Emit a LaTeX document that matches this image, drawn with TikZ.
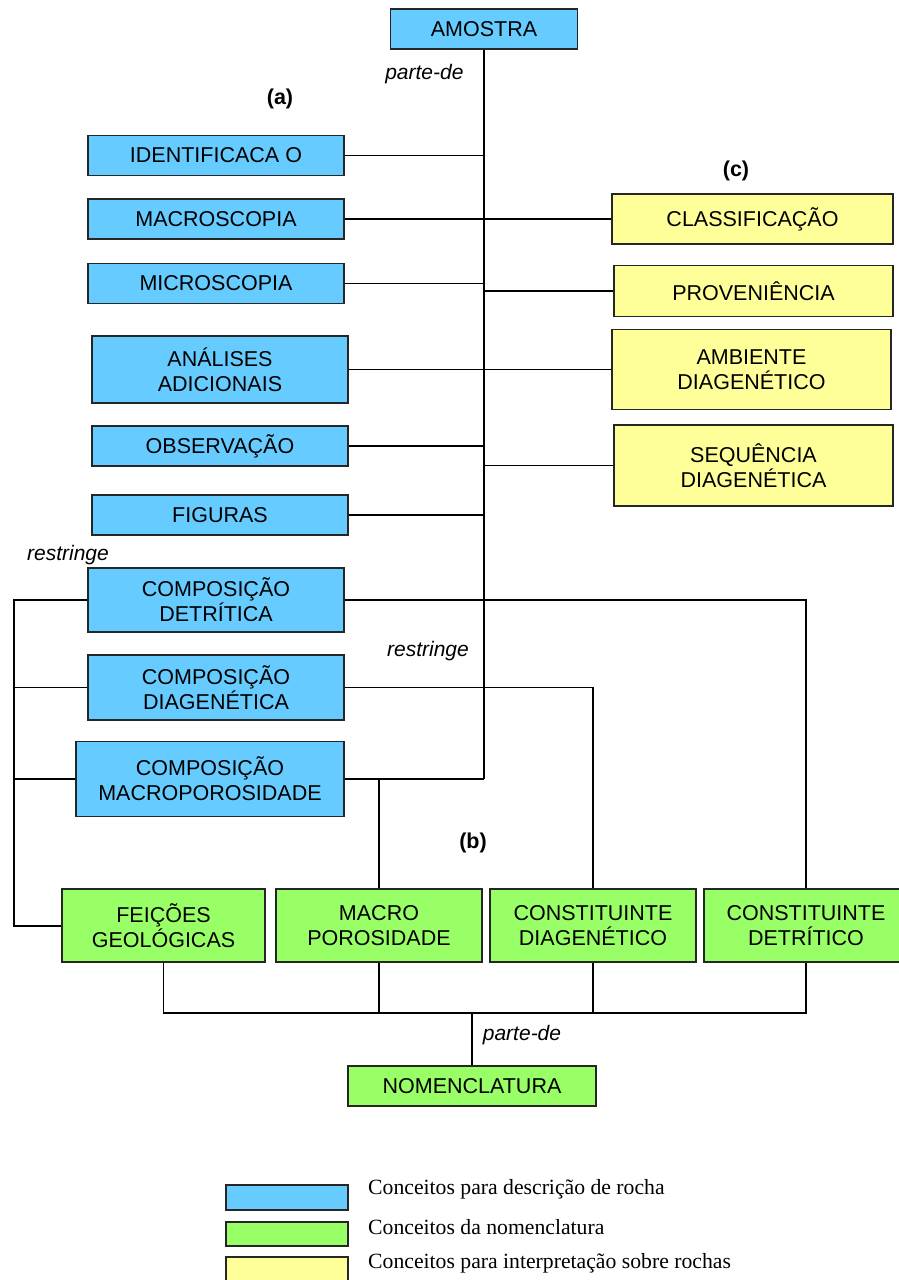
\documentclass[tikz,border=0pt]{standalone}
\usepackage{fontspec}
\setmainfont{Liberation Sans}
\newfontfamily\legendfont{Liberation Serif}
\usepackage{xcolor}
\definecolor{rockblue}{HTML}{66CCFF}
\definecolor{nomgreen}{HTML}{99FF66}
\definecolor{interpyellow}{HTML}{FFFF99}

\begin{document}
\begin{tikzpicture}[x=1pt,y=-1pt]
\tikzset{
    concept/.style={draw=black!85,line width=1.9pt,minimum width=256pt,minimum height=40pt,
        inner sep=0pt,align=center,font=\fontsize{21.5}{25}\selectfont},
    desc/.style={concept,fill=rockblue},
    nom/.style={concept,fill=nomgreen},
    interp/.style={concept,fill=interpyellow},
    link/.style={line width=1.4pt},
    trunk/.style={line width=2.6pt},
    rel/.style={font=\fontsize{21}{25}\selectfont\itshape},
    part/.style={font=\fontsize{21.5}{25}\selectfont\bfseries},
    legtext/.style={anchor=west,inner sep=0pt,font=\legendfont\fontsize{21.7}{25}\selectfont}
}
\useasboundingbox (0,0) rectangle (898,1280);

% (a) description concepts
\node[desc,minimum width=187pt] (amostra) at (484,29) {AMOSTRA};
\node[rel,anchor=east] (parteA) at (467,74) {parte-de};
\node[part] (laba) at (280,99) {(a)};

\node[desc] (ident) at (216,155.5) {IDENTIFICACA O};
\node[desc] (macro) at (216,219) {MACROSCOPIA};
\node[desc] (micro) at (216,283.5) {MICROSCOPIA};
\node[desc,minimum height=67pt] (analises) at (220,369.5) {ANÁLISES\\ADICIONAIS};
\node[desc] (observ) at (220,446) {OBSERVAÇÃO};
\node[desc] (figuras) at (220,515) {FIGURAS};
\node[rel] (restr1) at (68,555) {restringe};
\node[desc,minimum height=64pt] (compdet) at (216,600) {COMPOSIÇÃO\\DETRÍTICA};
\node[rel] (restr2) at (428,651) {restringe};
\node[desc,minimum height=65pt] (compdiag) at (216,687.5) {COMPOSIÇÃO\\DIAGENÉTICA};
\node[desc,minimum width=268pt,minimum height=75pt] (compmacro) at (210,779) {COMPOSIÇÃO\\MACROPOROSIDADE};

% (c) interpretation concepts
\node[part] (labc) at (736,171) {(c)};
\node[interp,minimum width=281pt,minimum height=50pt] (classif) at (752.5,219) {CLASSIFICAÇÃO};
\node[interp,minimum width=279pt,minimum height=51pt] (prov) at (753.5,291) {PROVENIÊNCIA};
\node[interp,minimum width=279pt,minimum height=80pt] (ambiente) at (751.5,369.5) {AMBIENTE\\DIAGENÉTICO};
\node[interp,minimum width=279pt,minimum height=81pt] (sequencia) at (753.5,465.5) {SEQUÊNCIA\\DIAGENÉTICA};

% (b) nomenclature concepts
\node[part] (labb) at (473,843) {(b)};
\node[nom,minimum width=203pt,minimum height=73pt] (feicoes) at (163.5,925.5) {FEIÇÕES\\GEOLÓGICAS};
\node[nom,minimum width=206pt,minimum height=73pt] (macropor) at (379,925.5) {MACRO\\POROSIDADE};
\node[nom,minimum width=206pt,minimum height=73pt] (constdiag) at (593,925.5) {CONSTITUINTE\\DIAGENÉTICO};
\node[nom,minimum width=204pt,minimum height=73pt] (constdet) at (806,925.5) {CONSTITUINTE\\DETRÍTICO};
\node[rel] (parteB) at (522,1035) {parte-de};
\node[nom,minimum width=248pt] (nomen) at (472,1086) {NOMENCLATURA};

% legend
\node[desc,minimum width=122pt,minimum height=25pt] (legdesc) at (287,1197.5) {};
\node[nom,minimum width=122pt,minimum height=24pt] (legnom) at (287,1234) {};
\node[interp,minimum width=122pt,minimum height=25pt] (leginterp) at (287,1269.5) {};
\node[legtext] (legdesctxt) at (368,1189) {Conceitos para descrição de rocha};
\node[legtext] (legnomtxt) at (368,1227) {Conceitos da nomenclatura};
\node[legtext] (leginterptxt) at (368,1263) {Conceitos para interpretação sobre rochas};

% connectors
\coordinate (trunkend) at (484,779);
\coordinate (lbus) at (14,600);
\coordinate (bbus) at (472,1013);

\draw[trunk] (amostra.south) -- (trunkend);
\draw[link] (trunkend) -- (compmacro.east);
\foreach \n in {ident,micro,observ,figuras}
    \draw[link] (\n.east) -- (\n.east -| trunkend);
\foreach \n in {prov,sequencia}
    \draw[link] (\n.west) -- (\n.west -| trunkend);
\draw[link] (macro.east) -- (classif.west);
\draw[link] (analises.east) -- (ambiente.west);

\draw[link] (compdet.east) -| (constdet.north);
\draw[link] (compdiag.east) -| (constdiag.north);
\draw[link] (compmacro.east -| macropor.north) -- (macropor.north);
\draw[link,line width=2pt] (compdet.west) -- (lbus) |- (feicoes.west);
\foreach \n in {compdiag,compmacro}
    \draw[link] (\n.west) -- (\n.west -| lbus);

\draw[link] (feicoes.south) |- (bbus) -| (constdet.south);
\foreach \n in {macropor,constdiag}
    \draw[link] (\n.south) -- (\n.south |- bbus);
\draw[trunk] (macropor.south |- bbus) -- (constdiag.south |- bbus);
\draw[trunk] (bbus) -- (nomen.north);

\end{tikzpicture}
\end{document}
